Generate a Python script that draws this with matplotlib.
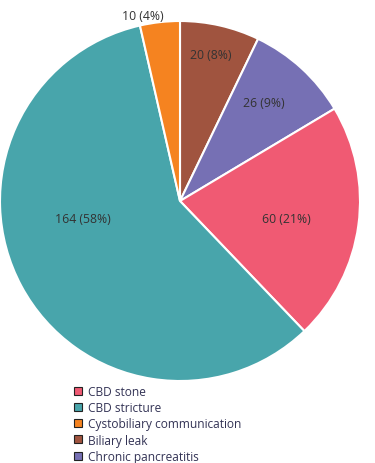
import matplotlib.pyplot as plt
import numpy as np
from matplotlib.patches import Patch

plt.rcParams['font.family'] = ['Open Sans', 'DejaVu Sans']

# Slices in drawing order (clockwise from 12 o'clock)
categories = ['Biliary leak', 'Chronic pancreatitis', 'CBD stone', 'CBD stricture', 'Cystobiliary communication']
counts = [20, 26, 60, 164, 10]
pct_labels = ['8%', '9%', '21%', '58%', '4%']
colors = ['#A0543F', '#7670B4', '#F05A73', '#48A5AB', '#F58320']

# legend order as in the original figure
legend_order = ['CBD stone', 'CBD stricture', 'Cystobiliary communication', 'Biliary leak', 'Chronic pancreatitis']

# label placement: (fraction of radius, angle offset from wedge middle in degrees)
label_place = [(0.83, -1), (0.72, -2), (0.60, 1.5), (0.55, 18), (1.05, -5)]

fig = plt.figure(figsize=(3.75, 4.64), dpi=100)
ax = fig.add_axes([0 / 375, (464 - 382) / 464, 360 / 375, 360 / 464])

wedges, _ = ax.pie(counts, colors=colors, startangle=90, counterclock=False,
                   radius=1, wedgeprops=dict(edgecolor='white', linewidth=1.5))

for w, n, p, (rf, off) in zip(wedges, counts, pct_labels, label_place):
    mid = np.deg2rad((w.theta1 + w.theta2) / 2 - off)
    ax.text(rf * np.cos(mid), rf * np.sin(mid), f'{n} ({p})',
            ha='center', va='center', fontsize=8.8, color='#333333')

ax.set_xlim(-1, 1)
ax.set_ylim(-1, 1)
ax.set_aspect('equal')
ax.axis('off')

handles = [Patch(facecolor=colors[categories.index(c)], edgecolor='#222222', linewidth=0.8)
           for c in legend_order]
fig.legend(handles, legend_order, loc='upper left', bbox_to_anchor=(68 / 375, 1 - 380 / 464),
           frameon=False, fontsize=8.6, handlelength=0.65, handleheight=0.65,
           handletextpad=0.55, labelspacing=0.27, borderpad=0, labelcolor='#333355')

plt.savefig('out.png', dpi=100)
